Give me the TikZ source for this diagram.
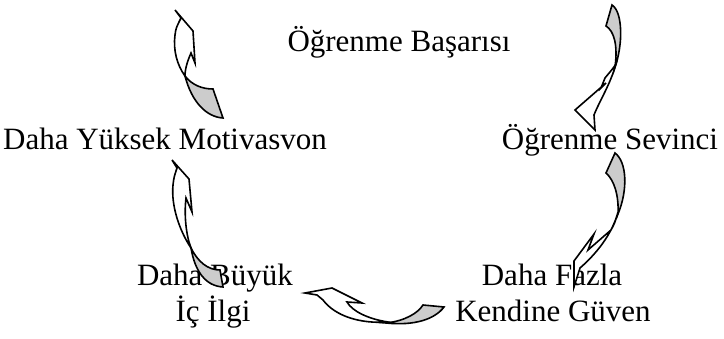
\documentclass[tikz,border=0pt]{standalone}
\usepackage{fontspec}
\setmainfont{Liberation Serif}
\begin{document}
\begin{tikzpicture}[x=1pt,y=-1pt,
  lbl/.style={anchor=base, inner sep=0pt, font=\fontsize{31}{36}\selectfont},
  front/.style={draw=black, line width=1.6pt, fill=white, line join=miter},
  back/.style={draw=black, line width=1.6pt, fill=black!20, line join=miter}]
\useasboundingbox (0,0) rectangle (724,339);

% texts
\node[lbl] (basari) at (399,52)  {Öğrenme Başarısı};
\node[lbl] (motiv)  at (165,150) {Daha Yüksek Motivasvon};
\node[lbl] (sevinc) at (610,150) {Öğrenme Sevinci};
\node[lbl] (buyuk)  at (215,286) {Daha Büyük};
\node[lbl] (icilgi) at (213,322) {İç İlgi};
\node[lbl] (fazla)  at (552,286) {Daha Fazla};
\node[lbl] (guven)  at (553,322) {Kendine Güven};

% arrow 1: top left, pointing up
\draw[back] (185,76) .. controls (192,85) and (202,89) .. (213,89) -- (223,118)
  .. controls (207,117) and (192,103) .. (185,76) -- cycle;
\draw[front] (175,10) -- (193,31) -- (195,63) -- (191,53)
  .. controls (188,60) and (185,68) .. (185,76)
  .. controls (177,65) and (173,50) .. (175,35)
  .. controls (176,28) .. (181,18) -- cycle;

% arrow 2: top right, pointing down
\draw[back] (612,5) -- (606,26) .. controls (614,31) and (618,45) .. (615,67)
  .. controls (623,45) and (623,12) .. (612,5) -- cycle;
\draw[front] (616,64) .. controls (610,85) and (600,100) .. (594,115) -- (595,130)
  -- (575,110) -- (606,83) -- (601,88) -- (605,78)
  .. controls (609,73) and (612,70) .. (616,64) -- cycle;

% arrow 3: right middle, pointing down
\draw[back] (615,153) -- (606,173) .. controls (614,180) and (619,195) .. (618,214)
  .. controls (628,190) and (627,162) .. (615,153) -- cycle;
\draw[front] (618,212) .. controls (612,235) and (595,255) .. (580,268) -- (574,287)
  -- (574,261) -- (594,234) -- (588,250) -- (611,230)
  .. controls (614,225) and (616,220) .. (618,212) -- cycle;

% arrow 4: left middle, pointing up
\draw[back] (191,248) .. controls (198,262) and (208,270) .. (220,270) -- (223,287)
  .. controls (206,286) and (195,272) .. (191,248) -- cycle;
\draw[front] (172,160) -- (189,179) -- (192,212) -- (186,198)
  .. controls (184,215) and (186,235) .. (191,248)
  .. controls (179,230) and (171,205) .. (173,185)
  .. controls (174,177) .. (177,168) -- cycle;

% arrow 5: bottom, pointing left
\draw[back] (386,323) .. controls (405,321) and (418,313) .. (423,305) -- (444,307)
  .. controls (435,319) and (415,326) .. (386,323) -- cycle;
\draw[front] (305,293) -- (332,288) -- (362,303) -- (347,302)
  .. controls (352,311) and (368,319) .. (388,322)
  .. controls (360,324) and (335,316) .. (323,300)
  .. controls (320,297) .. (317,295) -- cycle;
\end{tikzpicture}
\end{document}
